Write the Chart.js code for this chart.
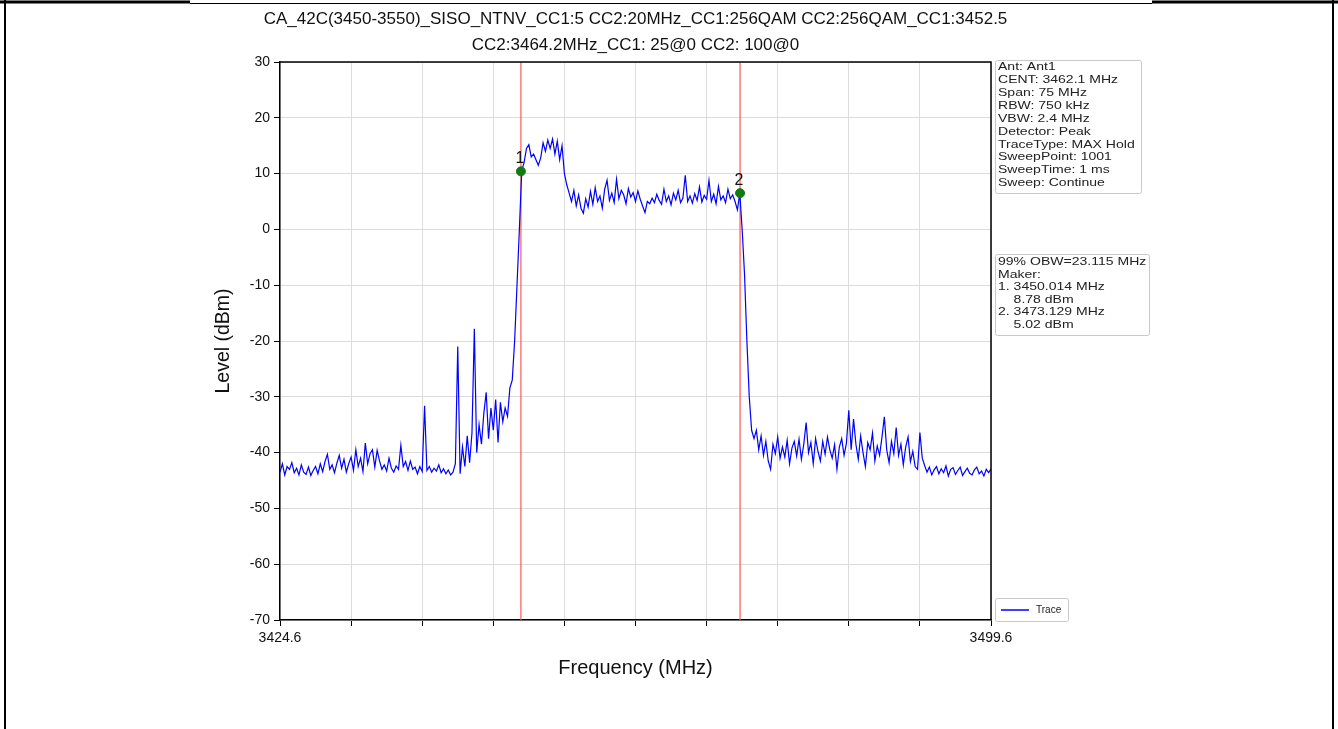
<!DOCTYPE html>
<html>
<head>
<meta charset="utf-8">
<script src="https://cdn.jsdelivr.net/npm/chart.js@4/dist/chart.umd.min.js"></script>
<style>
  html, body { margin: 0; padding: 0; background: #fff; }
  #wrap { position: relative; width: 1338px; height: 729px; }
</style>
</head>
<body>
<div id="wrap"><canvas id="c" width="1338" height="729"></canvas></div>
<script>
// ---- data ----
const titleLines = [
  "CA_42C(3450-3550)_SISO_NTNV_CC1:5 CC2:20MHz_CC1:256QAM CC2:256QAM_CC1:3452.5",
  "CC2:3464.2MHz_CC1: 25@0 CC2: 100@0"
];
const sweepStart = 3424.6;   // MHz
const sweepStep = 0.25;      // MHz per trace point
const traceLevels = [
  -43.5,-42.0,-44.0,-42.5,-43.0,-41.8,-43.6,-42.8,-44.0,-42.2,-43.5,-43.9,-42.6,-44.1,-43.2,-42.5,-43.8,-42.0,-43.4,-41.6,
  -40.3,-43.0,-42.2,-43.6,-41.9,-40.5,-42.8,-41.2,-43.5,-42.0,-40.8,-43.2,-39.5,-42.5,-41.0,-43.4,-38.3,-42.0,-40.2,-39.5,
  -42.6,-39.6,-41.5,-43.0,-42.2,-43.3,-41.0,-42.8,-43.5,-42.4,-43.0,-38.7,-42.5,-41.6,-43.2,-41.5,-43.0,-42.6,-43.8,-42.5,
  -43.4,-31.6,-43.2,-42.5,-43.5,-42.8,-43.3,-42.2,-43.6,-42.9,-43.8,-43.1,-44.0,-43.5,-42.0,-21.0,-43.8,-39.0,-42.5,-37.0,
  -41.8,-36.5,-17.8,-40.0,-35.0,-38.5,-33.0,-29.2,-37.5,-32.0,-36.0,-30.5,-38.2,-31.0,-34.5,-32.0,-33.5,-28.4,-27.0,-20.0,
  -10.0,0.0,10.5,12.0,14.5,15.2,13.0,13.5,12.5,11.5,12.8,15.5,14.0,16.0,14.5,16.2,13.5,15.8,12.5,15.0,
  10.0,8.0,6.5,5.0,7.0,4.2,6.2,3.8,2.9,5.5,4.0,6.8,4.5,7.5,5.0,6.0,3.8,7.2,8.8,5.2,
  6.5,4.8,9.0,5.5,7.0,6.2,4.6,7.3,5.8,6.6,5.0,6.9,5.4,4.2,3.0,5.0,4.6,5.6,4.8,6.3,
  5.2,4.5,7.2,5.0,6.0,4.4,6.5,5.3,7.0,4.8,5.6,9.7,5.0,6.0,4.7,6.4,5.2,7.6,4.9,6.1,
  5.4,8.8,5.0,6.3,4.6,7.7,5.3,6.0,4.8,7.2,5.5,6.2,5.0,3.5,6.5,0.0,-8.0,-20.0,-30.0,-36.0,
  -37.5,-36.0,-39.5,-37.0,-40.5,-38.0,-41.5,-43.0,-38.5,-40.2,-37.2,-41.0,-39.0,-40.8,-37.8,-42.0,-39.2,-38.0,-40.6,-37.6,
  -41.2,-38.5,-34.6,-40.0,-38.2,-42.0,-37.5,-39.8,-41.5,-38.0,-40.3,-37.2,-39.5,-41.0,-38.6,-43.0,-39.0,-37.5,-40.5,-38.3,
  -32.4,-39.5,-34.0,-38.5,-41.2,-37.0,-40.0,-42.5,-38.2,-39.5,-36.5,-41.5,-38.8,-40.5,-37.2,-33.6,-39.5,-41.8,-38.0,-40.2,
  -35.5,-40.5,-38.5,-42.2,-39.0,-37.2,-41.6,-39.8,-42.5,-43.0,-36.4,-41.0,-42.3,-43.5,-42.6,-44.0,-43.1,-42.5,-43.8,-42.9,
  -43.6,-42.4,-44.2,-43.0,-42.7,-43.9,-43.2,-42.6,-44.1,-43.4,-42.8,-43.7,-44.0,-43.1,-42.6,-43.8,-43.3,-44.2,-43.0,-43.6,-42.9
];
const markerLabels = ["1", "2"];
const markerFreqs = [3450.014, 3473.129];
const markerLevels = [10.4, 6.5];
const xTickValues = [3424.6, 3432.1, 3439.6, 3447.1, 3454.6, 3462.1, 3469.6, 3477.1, 3484.6, 3492.1, 3499.6];
const xTickLabels = ["3424.6", "", "", "", "", "", "", "", "", "", "3499.6"];
const yMin = -70, yMax = 30, yStep = 10;
const infoLines = [
  "Ant: Ant1", "CENT: 3462.1 MHz", "Span: 75 MHz", "RBW: 750 kHz", "VBW: 2.4 MHz",
  "Detector: Peak", "TraceType: MAX Hold", "SweepPoint: 1001", "SweepTime: 1 ms", "Sweep: Continue"
];
const obwLines = [
  "99% OBW=23.115 MHz", "Maker:", "1. 3450.014 MHz", "    8.78 dBm", "2. 3473.129 MHz", "    5.02 dBm"
];

// ---- build datasets ----
const tracePoints = traceLevels.map((v, i) => ({ x: sweepStart + i * sweepStep, y: v }));
const FONT = "'Liberation Sans', Arial, sans-serif";

const redLineSets = markerFreqs.map(f => ({
  label: "marker line",
  data: [{ x: f, y: yMin }, { x: f, y: yMax }],
  borderColor: "#ff5555",
  borderWidth: 1.2,
  pointRadius: 0,
  showLine: true,
  order: 3
}));

const overlay = {
  id: "overlay",
  afterDraw(chart) {
    const ctx = chart.ctx;
    const a = chart.chartArea;
    const xs = chart.scales.x, ys = chart.scales.y;
    ctx.save();
    // page frame
    ctx.strokeStyle = "#000";
    ctx.lineWidth = 3;
    ctx.beginPath(); ctx.moveTo(0, 2); ctx.lineTo(190, 2); ctx.moveTo(1152, 2); ctx.lineTo(1338, 2); ctx.stroke();
    ctx.lineWidth = 1;
    ctx.beginPath(); ctx.moveTo(190, 3.5); ctx.lineTo(1152, 3.5); ctx.stroke();
    ctx.lineWidth = 2;
    ctx.beginPath(); ctx.moveTo(5, 0); ctx.lineTo(5, 729); ctx.moveTo(1333, 0); ctx.lineTo(1333, 729); ctx.stroke();

    // top/right spines
    ctx.lineWidth = 1.5;
    ctx.beginPath();
    ctx.moveTo(a.left, a.top); ctx.lineTo(a.right, a.top); ctx.lineTo(a.right, a.bottom);
    ctx.stroke();

    // title
    ctx.fillStyle = "#111";
    ctx.font = "17px " + FONT;
    ctx.textAlign = "center";
    ctx.textBaseline = "middle";
    const cx = (a.left + a.right) / 2;
    ctx.fillText(titleLines[0], cx, 19);
    ctx.fillText(titleLines[1], cx, 45);

    // marker labels
    ctx.font = "16px " + FONT;
    ctx.textBaseline = "bottom";
    markerFreqs.forEach((f, i) => {
      ctx.fillText(markerLabels[i], xs.getPixelForValue(f) - 1, ys.getPixelForValue(markerLevels[i]) - 5);
    });

    // info boxes
    function box(x, y, w, h) {
      ctx.fillStyle = "rgba(255,255,255,0.9)";
      ctx.strokeStyle = "#c8c8c8";
      ctx.lineWidth = 1;
      ctx.beginPath();
      if (ctx.roundRect) ctx.roundRect(x + 0.5, y + 0.5, w, h, 2); else ctx.rect(x + 0.5, y + 0.5, w, h);
      ctx.fill(); ctx.stroke();
    }
    function wideText(t, x, y) {
      ctx.save();
      ctx.translate(x, y);
      ctx.scale(1.22, 1);
      ctx.fillText(t, 0, 0);
      ctx.restore();
    }
    const bx = a.right + 4;
    box(bx, 60, 146, 133);
    ctx.fillStyle = "#222";
    ctx.font = "11.5px " + FONT;
    ctx.textAlign = "left";
    ctx.textBaseline = "middle";
    infoLines.forEach((t, i) => wideText(t, bx + 3, 67 + i * 12.9));

    box(bx, 254, 154, 81);
    ctx.fillStyle = "#222";
    obwLines.forEach((t, i) => wideText(t, bx + 3, 262 + i * 12.5));

    // legend
    box(bx, 598, 73, 23);
    ctx.strokeStyle = "#0000ff";
    ctx.lineWidth = 1.5;
    ctx.beginPath(); ctx.moveTo(bx + 6, 610); ctx.lineTo(bx + 34, 610); ctx.stroke();
    ctx.fillStyle = "#222";
    ctx.font = "10px " + FONT;
    ctx.fillText("Trace", bx + 41, 610);
    ctx.restore();
  }
};

new Chart(document.getElementById("c"), {
  type: "scatter",
  data: {
    datasets: [
      {
        label: "Trace",
        data: tracePoints,
        showLine: true,
        borderColor: "#0000ff",
        borderWidth: 1.2,
        pointRadius: 0,
        tension: 0,
        order: 2
      },
      ...redLineSets,
      {
        label: "Markers",
        data: markerFreqs.map((f, i) => ({ x: f, y: markerLevels[i] })),
        pointRadius: 4.5,
        pointBackgroundColor: "#117a11",
        pointBorderColor: "#117a11",
        showLine: false,
        order: 1
      }
    ]
  },
  options: {
    responsive: false,
    animation: false,
    layout: { padding: { left: 210, right: 347, top: 62, bottom: 47 } },
    plugins: {
      legend: { display: false },
      title: { display: false },
      tooltip: { enabled: false }
    },
    scales: {
      x: {
        type: "linear",
        min: xTickValues[0],
        max: xTickValues[xTickValues.length - 1],
        afterBuildTicks(scale) { scale.ticks = xTickValues.map(v => ({ value: v })); },
        afterFit(scale) { scale.height = 62; },
        ticks: {
          autoSkip: false,
          maxRotation: 0,
          color: "#111",
          font: { family: FONT, size: 14 },
          padding: 4,
          callback(value, index) { return xTickLabels[index]; }
        },
        grid: { color: "#dcdcdc", lineWidth: 1, tickColor: "#000", tickLength: 6 },
        border: { color: "#000", width: 1.5 },
        title: {
          display: true, text: "Frequency (MHz)", color: "#111",
          font: { family: FONT, size: 20 }, padding: { top: 4, bottom: 2 }
        }
      },
      y: {
        min: yMin, max: yMax,
        afterFit(scale) { scale.width = 70; },
        ticks: {
          stepSize: yStep, color: "#111",
          font: { family: FONT, size: 14 }, padding: 4
        },
        grid: { color: "#dcdcdc", lineWidth: 1, tickColor: "#000", tickLength: 6 },
        border: { color: "#000", width: 1.5 },
        title: {
          display: true, text: "Level (dBm)", color: "#111",
          font: { family: FONT, size: 19.5 }, padding: { top: 2, bottom: 4 }
        }
      }
    }
  },
  plugins: [overlay]
});
</script>
</body>
</html>
